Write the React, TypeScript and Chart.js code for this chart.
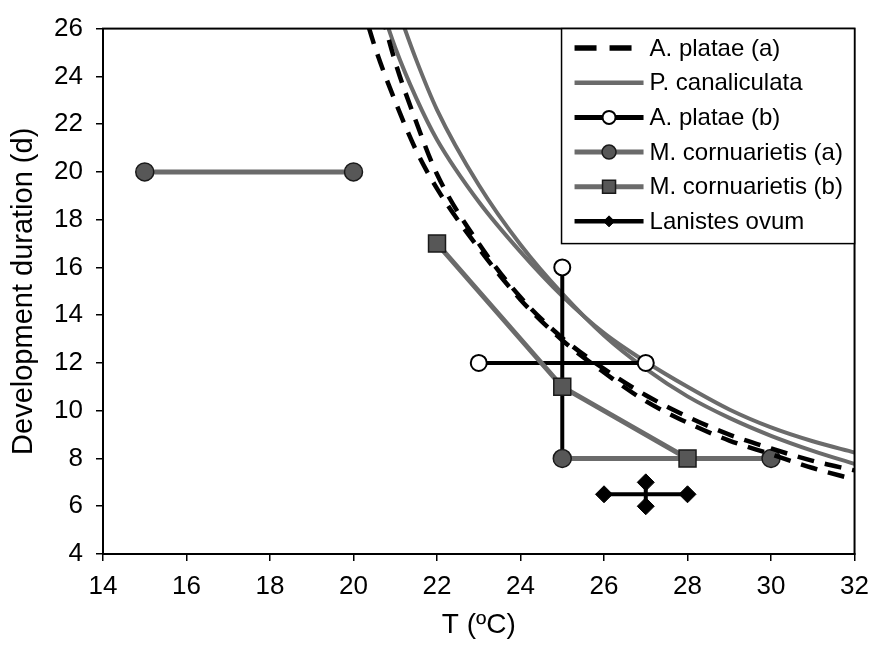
import React, { useEffect, useRef } from 'react';
import { Chart, registerables } from 'chart.js';

Chart.register(...registerables);

// ---- axis ticks ----
const xTicks = [14, 16, 18, 20, 22, 24, 26, 28, 30, 32];
const yTicks = [4, 6, 8, 10, 12, 14, 16, 18, 20, 22, 24, 26];

// ---- A. platae (a): two dashed curves ----
const plataeA1_T = [20.0, 20.5, 21, 21.5, 22, 23, 24, 25, 26, 27, 28, 29, 30, 31, 32];
const plataeA1_D = [28.3, 25.3, 22.95, 20.9, 19.3, 16.8, 14.65, 12.95, 11.6, 10.4, 9.5, 8.75, 8.18, 7.6, 7.12];
const plataeA2_T = [20.5, 21, 21.5, 22, 23, 24, 25, 26, 27, 28, 29, 30, 31, 32];
const plataeA2_D = [27.8, 24.6, 22.1, 19.9, 17.0, 14.75, 13.05, 11.75, 10.65, 9.75, 9.0, 8.42, 7.9, 7.5];

// ---- P. canaliculata: two solid grey curves ----
const canal1_T = [20.5, 21, 21.5, 22, 23, 24, 25, 26, 27, 28, 29, 30, 31, 32];
const canal1_D = [27.8, 25.2, 23.1, 21.35, 18.75, 16.65, 14.8, 13.25, 12.05, 11.0, 10.05, 9.3, 8.72, 8.25];
const canal2_T = [21, 21.5, 22, 23, 24, 25, 26, 27, 28, 29, 30, 31, 32];
const canal2_D = [27.1, 24.7, 22.6, 19.45, 16.95, 14.9, 13.15, 11.75, 10.6, 9.7, 8.95, 8.32, 7.77];

// ---- ranges (null = break in the line) ----
const plataeB_T = [23, 27, null, 25, 25];
const plataeB_D = [12, 12, null, 16, 8];
const cornA_T = [15, 20, null, 25, 30];
const cornA_D = [20, 20, null, 8, 8];
const cornB_T = [22, 25, 28];
const cornB_D = [17, 11, 8];
const lanistes_T = [26, 28, null, 27, 27];
const lanistes_D = [6.5, 6.5, null, 7, 6];

const FONT = "'Liberation Sans', Arial, Helvetica, sans-serif";
const GREY_LINE = '#6b6b6b';
const GREY_FILL = '#575757';

function pts(T: (number | null)[], D: (number | null)[]) {
  let lastX = 0;
  return T.map((t, i) => {
    if (t === null || D[i] === null) return { x: lastX, y: null };
    lastX = t as number;
    return { x: t as number, y: D[i] as number };
  });
}

function drawMarker(ctx: CanvasRenderingContext2D, m: any, x: number, y: number) {
  if (!m) return;
  ctx.save();
  ctx.setLineDash([]);
  ctx.fillStyle = m.fill;
  ctx.strokeStyle = m.stroke;
  ctx.lineWidth = m.lw;
  ctx.beginPath();
  if (m.shape === 'circle') {
    ctx.arc(x, y, m.r, 0, Math.PI * 2);
  } else if (m.shape === 'rect') {
    ctx.rect(x - m.r, y - m.r, m.r * 2, m.r * 2);
  } else if (m.shape === 'diamond') {
    ctx.moveTo(x - m.r, y);
    ctx.lineTo(x, y - m.r);
    ctx.lineTo(x + m.r, y);
    ctx.lineTo(x, y + m.r);
    ctx.closePath();
  }
  ctx.fill();
  if (m.lw > 0) ctx.stroke();
  ctx.restore();
}

const boxLegend = {
  id: 'boxLegend',
  afterDraw(chart: any) {
    const { ctx, chartArea } = chart;
    const x1 = chartArea.right;
    const y0 = chartArea.top;
    const x0 = x1 - 293;
    const y1 = y0 + 215;
    ctx.save();
    ctx.fillStyle = '#fff';
    ctx.fillRect(x0, y0, x1 - x0, y1 - y0);
    ctx.strokeStyle = '#000';
    ctx.lineWidth = 1.5;
    ctx.strokeRect(x0, y0, x1 - x0, y1 - y0);
    const entries = chart.data.datasets.filter((d: any) => d.inLegend);
    entries.forEach((d: any, i: number) => {
      const y = y0 + 19.5 + i * 34.65;
      ctx.beginPath();
      ctx.setLineDash(d.legendDash || []);
      ctx.lineCap = 'butt';
      ctx.lineWidth = d.legendWidth;
      ctx.strokeStyle = d.borderColor;
      ctx.moveTo(x0 + 13, y);
      ctx.lineTo(x0 + 82, y);
      ctx.stroke();
      ctx.setLineDash([]);
      drawMarker(ctx, d.legendMarker, x0 + 47.5, y);
      ctx.fillStyle = '#000';
      ctx.font = `24px ${FONT}`;
      ctx.textBaseline = 'middle';
      ctx.textAlign = 'left';
      ctx.fillText(d.label, x0 + 88, y + 1);
    });
    ctx.restore();
  },
};

const frame = {
  id: 'frame',
  afterDatasetsDraw(chart: any) {
    const { ctx, chartArea } = chart;
    ctx.save();
    ctx.strokeStyle = '#000';
    ctx.lineWidth = 2;
    ctx.strokeRect(chartArea.left, chartArea.top, chartArea.right - chartArea.left, chartArea.bottom - chartArea.top);
    ctx.restore();
  },
};

export default function App() {
  const ref = useRef<HTMLCanvasElement>(null);

  useEffect(() => {
    if (!ref.current) return;
    const curveBase = {
      showLine: true,
      pointRadius: 0,
      cubicInterpolationMode: 'monotone' as const,
      fill: false,
      clip: 0,
    };
    const chart = new Chart(ref.current, {
      type: 'scatter',
      data: {
        datasets: [
          {
            ...curveBase,
            label: 'A. platae (a)',
            data: pts(plataeA1_T, plataeA1_D),
            borderColor: '#000',
            borderWidth: 4.5,
            borderDash: [17, 11],
            order: 4,
            inLegend: true,
            legendWidth: 5.5,
            legendDash: [22, 13],
          } as any,
          {
            ...curveBase,
            label: 'A. platae (a) 2',
            data: pts(plataeA2_T, plataeA2_D),
            borderColor: '#000',
            borderWidth: 4.5,
            borderDash: [17, 11],
            order: 3,
          } as any,
          {
            ...curveBase,
            label: 'P. canaliculata',
            data: pts(canal1_T, canal1_D),
            borderColor: GREY_LINE,
            borderWidth: 4,
            order: 8,
            inLegend: true,
            legendWidth: 4.5,
          } as any,
          {
            ...curveBase,
            label: 'P. canaliculata 2',
            data: pts(canal2_T, canal2_D),
            borderColor: GREY_LINE,
            borderWidth: 4,
            order: 7,
          } as any,
          {
            label: 'A. platae (b)',
            data: pts(plataeB_T, plataeB_D),
            showLine: true,
            spanGaps: false,
            borderColor: '#000',
            borderWidth: 4,
            pointStyle: 'circle',
            pointRadius: 8,
            pointBackgroundColor: '#fff',
            pointBorderColor: '#000',
            pointBorderWidth: 2,
            order: 6,
            inLegend: true,
            legendWidth: 5,
            legendMarker: { shape: 'circle', r: 6.5, fill: '#fff', stroke: '#000', lw: 2 },
          } as any,
          {
            label: 'M. cornuarietis (a)',
            data: pts(cornA_T, cornA_D),
            showLine: true,
            spanGaps: false,
            borderColor: GREY_LINE,
            borderWidth: 5,
            pointStyle: 'circle',
            pointRadius: 9,
            pointBackgroundColor: GREY_FILL,
            pointBorderColor: '#1a1a1a',
            pointBorderWidth: 1.5,
            order: 5,
            inLegend: true,
            legendWidth: 5,
            legendMarker: { shape: 'circle', r: 7, fill: GREY_FILL, stroke: '#1a1a1a', lw: 1.5 },
          } as any,
          {
            label: 'M. cornuarietis (b)',
            data: pts(cornB_T, cornB_D),
            showLine: true,
            spanGaps: false,
            borderColor: GREY_LINE,
            borderWidth: 5,
            pointStyle: 'rect',
            pointRadius: 12,
            pointBackgroundColor: GREY_FILL,
            pointBorderColor: '#1a1a1a',
            pointBorderWidth: 1.5,
            order: 2,
            inLegend: true,
            legendWidth: 5,
            legendMarker: { shape: 'rect', r: 6.5, fill: GREY_FILL, stroke: '#1a1a1a', lw: 1.5 },
          } as any,
          {
            label: 'Lanistes ovum',
            data: pts(lanistes_T, lanistes_D),
            showLine: true,
            spanGaps: false,
            borderColor: '#000',
            borderWidth: 4,
            pointStyle: 'rectRot',
            pointRadius: 8.5,
            pointBackgroundColor: '#000',
            pointBorderColor: '#000',
            pointBorderWidth: 1,
            order: 1,
            inLegend: true,
            legendWidth: 4.5,
            legendMarker: { shape: 'diamond', r: 5.5, fill: '#000', stroke: '#000', lw: 1 },
          } as any,
        ],
      },
      options: {
        responsive: false,
        animation: false,
        events: [],
        layout: { padding: { top: 0, right: 0, left: 0, bottom: 0 } },
        plugins: {
          legend: { display: false },
          tooltip: { enabled: false },
        },
        scales: {
          x: {
            type: 'linear',
            min: 14,
            max: 32,
            afterBuildTicks: (ax: any) => {
              ax.ticks = xTicks.map((v) => ({ value: v }));
            },
            afterFit: (s: any) => {
              s.height = 92;
            },
            ticks: {
              font: { size: 26, family: FONT },
              color: '#000',
              padding: 10,
              maxRotation: 0,
              autoSkip: false,
              callback: (v: any) => String(v),
            },
            grid: { drawOnChartArea: false, drawTicks: true, tickLength: 7, color: '#000', lineWidth: 1.5 },
            border: { display: true, color: '#000', width: 2 },
            title: {
              display: true,
              text: 'T (ºC)',
              font: { size: 28, family: FONT },
              color: '#000',
              padding: { top: 0, bottom: 4 },
            },
          },
          y: {
            type: 'linear',
            min: 4,
            max: 26,
            afterBuildTicks: (ax: any) => {
              ax.ticks = yTicks.map((v) => ({ value: v }));
            },
            afterFit: (s: any) => {
              s.width = 103;
            },
            ticks: {
              font: { size: 26, family: FONT },
              color: '#000',
              padding: 13,
              autoSkip: false,
              callback: (v: any) => String(v),
            },
            grid: { drawOnChartArea: false, drawTicks: true, tickLength: 7, color: '#000', lineWidth: 1.5 },
            border: { display: true, color: '#000', width: 2 },
            title: {
              display: true,
              text: 'Development duration (d)',
              font: { size: 29, family: FONT },
              color: '#000',
              padding: { top: 7, bottom: 0 },
            },
          },
        },
      } as any,
      plugins: [frame, boxLegend],
    });
    return () => chart.destroy();
  }, []);

  return (
    <div style={{ position: 'absolute', left: 0, top: 0, width: 879, height: 646, background: '#fff' }}>
      <canvas ref={ref} width={879} height={646} style={{ display: 'block', width: 879, height: 646 }} />
    </div>
  );
}
